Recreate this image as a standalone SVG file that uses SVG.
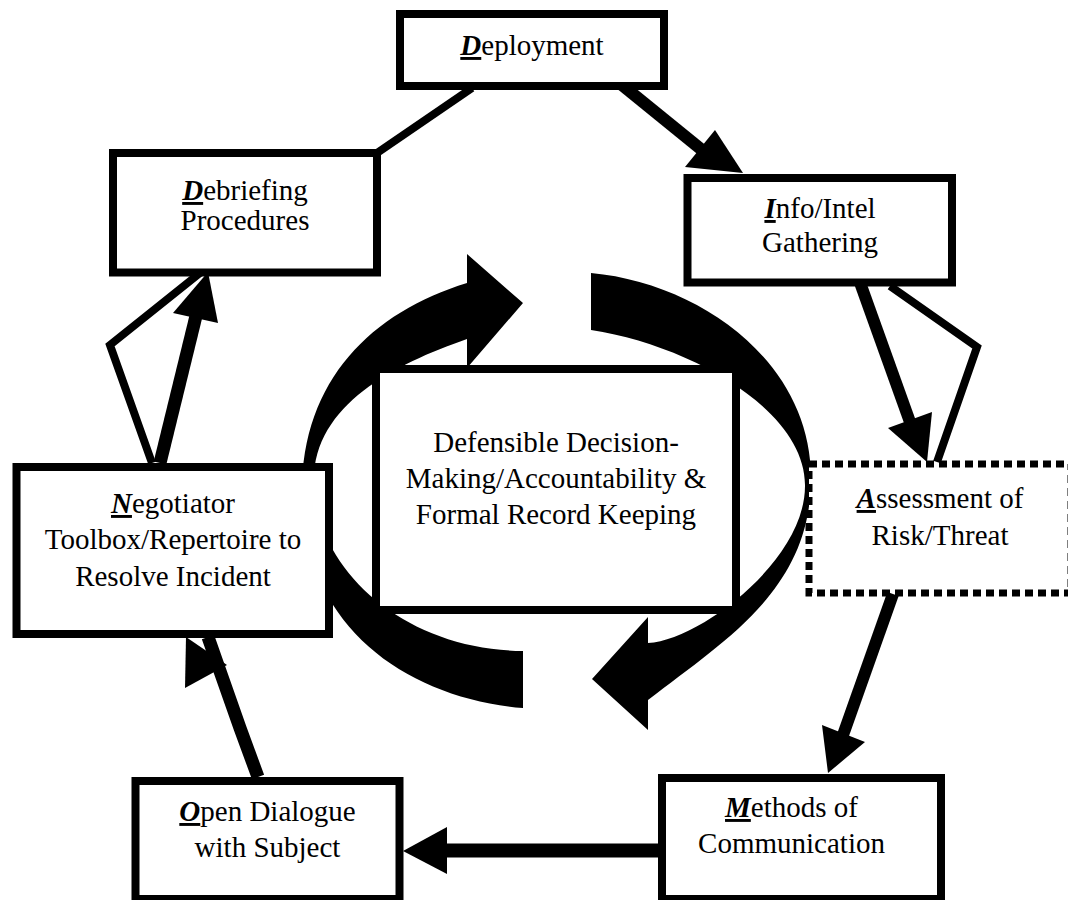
<svg xmlns="http://www.w3.org/2000/svg" width="1068" height="900" viewBox="0 0 1068 900">
<defs>
<style>
.box{fill:#fff;stroke:#000;stroke-width:8}
.dot{fill:#fff;stroke:#000;stroke-width:7;stroke-dasharray:8 5}
.t{font-family:Liberation Serif;font-size:29px;fill:#000;text-anchor:middle}
.k{font-weight:bold;font-style:italic;text-decoration:underline}
.thin{fill:none;stroke:#000;stroke-width:8;stroke-linejoin:miter}
.thick{fill:none;stroke:#000;stroke-width:12}
.head{fill:#000}
.ring{fill:#000}
</style>
</defs>
<rect width="1068" height="900" fill="#fff"/>
<g id="connectors">
<line class="thin" x1="472" y1="88" x2="377" y2="153"/>
<polyline class="thin" points="890,286 977,347 937,462"/>
<polyline class="thin" points="152,463 110,345 200,273"/>
<line class="thick" x1="622" y1="85" x2="702" y2="150"/>
<polygon class="head" points="715,130 743,173 685,167"/>
<line class="thick" x1="858" y1="277" x2="910" y2="422"/>
<polygon class="head" points="932,412 927,462 888,428"/>
<line class="thick" x1="893" y1="594" x2="843" y2="735"/>
<polygon class="head" points="822,725 828,773 865,742"/>
<line class="thick" style="stroke-width:14" x1="658" y1="850.5" x2="445" y2="850.5"/>
<polygon class="head" points="447,827 403,851 447,874"/>
<polyline class="thick" style="stroke-width:13" points="258,777 240,728 208,637"/>
<polygon class="head" points="186,637 185,688 227,665"/>
<line class="thick" style="stroke-width:13" x1="160" y1="463" x2="196" y2="316"/>
<polygon class="head" points="173,313 208,272 218,323"/>
</g>
<g id="cycle-arrows">
<path class="ring" d="M523,708 C405,698 302,625 302,492 C302,380 372,312 467,283 L467,254 L523,303 L467,368 L467,339 C395,364 314,405 314,480 C314,570 405,650 523,651 Z"/>
<path class="ring" d="M591,273 C700,283 811,362 811,478 C811,590 725,640 648,700 L648,730 L592,679 L648,617 L648,643 C700,640 806,560 805,485 C805,410 690,345 591,330 Z"/>
</g>
<g id="deployment">
<rect class="box" x="400" y="14" width="264" height="72"/>
<text class="t" x="532" y="55"><tspan class="k">D</tspan>eployment</text>
</g>
<g id="debriefing">
<rect class="box" x="113" y="153" width="264" height="119.5"/>
<text class="t" x="245" y="200"><tspan class="k">D</tspan>ebriefing</text>
<text class="t" x="245" y="230">Procedures</text>
</g>
<g id="info">
<rect class="box" x="687.5" y="178" width="264.5" height="104.5"/>
<text class="t" x="820" y="218"><tspan class="k">I</tspan>nfo/Intel</text>
<text class="t" x="820" y="252">Gathering</text>
</g>
<g id="center">
<rect class="box" x="376" y="369" width="360" height="241"/>
<text class="t" x="556" y="452">Defensible Decision-</text>
<text class="t" x="556" y="488">Making/Accountability &amp;</text>
<text class="t" x="556" y="524">Formal Record Keeping</text>
</g>
<g id="negotiator">
<rect class="box" x="16.5" y="467" width="312.5" height="167"/>
<text class="t" x="173" y="513"><tspan class="k">N</tspan>egotiator</text>
<text class="t" x="173" y="549">Toolbox/Repertoire to</text>
<text class="t" x="173" y="586">Resolve Incident</text>
</g>
<g id="assessment">
<rect class="dot" x="809" y="464" width="262" height="129"/>
<text class="t" x="940" y="508"><tspan class="k">A</tspan>ssessment of</text>
<text class="t" x="940" y="545">Risk/Threat</text>
</g>
<g id="methods">
<rect class="box" x="662" y="778" width="279" height="121"/>
<text class="t" x="791.5" y="817"><tspan class="k">M</tspan>ethods of</text>
<text class="t" x="791.5" y="853">Communication</text>
</g>
<g id="open">
<rect class="box" x="135.5" y="781" width="264" height="118"/>
<text class="t" x="267.5" y="821"><tspan class="k">O</tspan>pen Dialogue</text>
<text class="t" x="267.5" y="857">with Subject</text>
</g>
</svg>
